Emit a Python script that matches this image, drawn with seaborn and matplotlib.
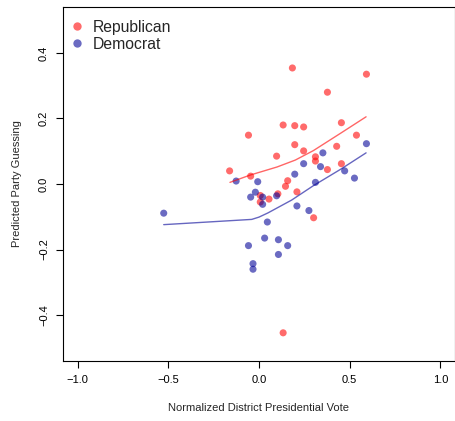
import numpy as np
import pandas as pd
import matplotlib
matplotlib.use("Agg")
import matplotlib.pyplot as plt
import seaborn as sns
from matplotlib.lines import Line2D

# Data
rep_x = [0.184, 0.592, 0.377, 0.454, 0.133, 0.197, 0.246, -0.058, 0.537, 0.197,
         0.428, 0.246, 0.097, 0.311, 0.311, 0.454, 0.377, -0.162, -0.046, 0.158,
         0.146, 0.209, 0.104, 0.007, 0.055, 0.007, 0.301, 0.133]
rep_y = [0.354, 0.335, 0.280, 0.187, 0.180, 0.178, 0.174, 0.149, 0.149, 0.120,
         0.115, 0.101, 0.085, 0.083, 0.070, 0.062, 0.044, 0.040, 0.024, 0.010,
         -0.007, -0.024, -0.030, -0.035, -0.046, -0.055, -0.103, -0.454]
dem_x = [0.592, 0.352, 0.246, 0.339, 0.472, 0.197, 0.526, -0.126, -0.007, 0.311,
         -0.020, -0.046, 0.020, 0.097, 0.020, 0.209, 0.275, -0.525, 0.046, 0.031,
         0.107, -0.058, 0.158, 0.107, -0.033, -0.033]
dem_y = [0.123, 0.095, 0.062, 0.053, 0.040, 0.030, 0.018, 0.009, 0.007, 0.005,
         -0.025, -0.040, -0.040, -0.036, -0.062, -0.067, -0.081, -0.089, -0.116, -0.165,
         -0.170, -0.188, -0.188, -0.215, -0.243, -0.260]

rep_fit_x = [-0.16, -0.05, 0.10, 0.20, 0.30, 0.45, 0.59]
rep_fit_y = [0.005, 0.027, 0.052, 0.073, 0.102, 0.155, 0.205]
dem_fit_x = [-0.525, -0.04, 0.0, 0.05, 0.18, 0.30, 0.45, 0.59]
dem_fit_y = [-0.124, -0.108, -0.101, -0.088, -0.049, -0.005, 0.045, 0.095]

parties = ["Republican", "Democrat"]
x_ticks = [-1.0, -0.5, 0.0, 0.5, 1.0]
y_ticks = [-0.4, -0.2, 0.0, 0.2, 0.4]

sns.set_style("ticks")
plt.rcParams['font.family'] = ['Liberation Sans', 'DejaVu Sans']

pts = pd.DataFrame({
    "x": rep_x + dem_x,
    "y": rep_y + dem_y,
    "party": [parties[0]] * len(rep_x) + [parties[1]] * len(dem_x),
})
fits = pd.DataFrame({
    "x": rep_fit_x + dem_fit_x,
    "y": rep_fit_y + dem_fit_y,
    "party": [parties[0]] * len(rep_fit_x) + [parties[1]] * len(dem_fit_x),
})
palette = {"Republican": "#ff0000", "Democrat": "#000096"}

fig = plt.figure(figsize=(4.56, 4.21), dpi=100)
ax = fig.add_axes([63 / 456, 1 - 361 / 421, (455 - 63) / 456, (361 - 7) / 421])

sns.scatterplot(data=pts, x="x", y="y", hue="party", palette=palette, ax=ax,
                s=26, alpha=0.58, edgecolor="none", legend=False)
sns.lineplot(data=fits, x="x", y="y", hue="party", palette=palette, ax=ax,
             linewidth=1.0, alpha=0.6, legend=False, sort=False, estimator=None)

ax.set_xlim(-1.08, 1.08)
ax.set_ylim(-0.54, 0.54)
ax.set_xticks(x_ticks)
ax.set_yticks(y_ticks)
ax.set_xticklabels([f"{v:.1f}".replace("-", "\u2212") for v in x_ticks], fontsize=8)
ax.set_yticklabels([f"{v:.1f}".replace("-", "\u2212") for v in y_ticks], fontsize=8,
                   rotation=90, va="center")
ax.tick_params(direction="out", length=5, width=0.8, pad=5, colors="black")
for sp in ax.spines.values():
    sp.set_visible(True)
    sp.set_color("black")
    sp.set_linewidth(0.8)

ax.set_xlabel("Normalized District Presidential Vote", fontsize=8, labelpad=13)
ax.set_ylabel("Predicted Party Guessing", fontsize=8, labelpad=12)

handles = [Line2D([], [], marker="o", linestyle="none", markersize=6,
                  markerfacecolor=palette[p], markeredgecolor="none", alpha=0.58)
           for p in parties]
ax.legend(handles, parties, loc="upper left", frameon=False, fontsize=11.3,
          handletextpad=0.4, borderaxespad=0.0, labelspacing=0.12, handlelength=1.2,
          borderpad=0.3, bbox_to_anchor=(0 / 392, 1 - 8 / 354))

fig.savefig("out.png", dpi=100)
